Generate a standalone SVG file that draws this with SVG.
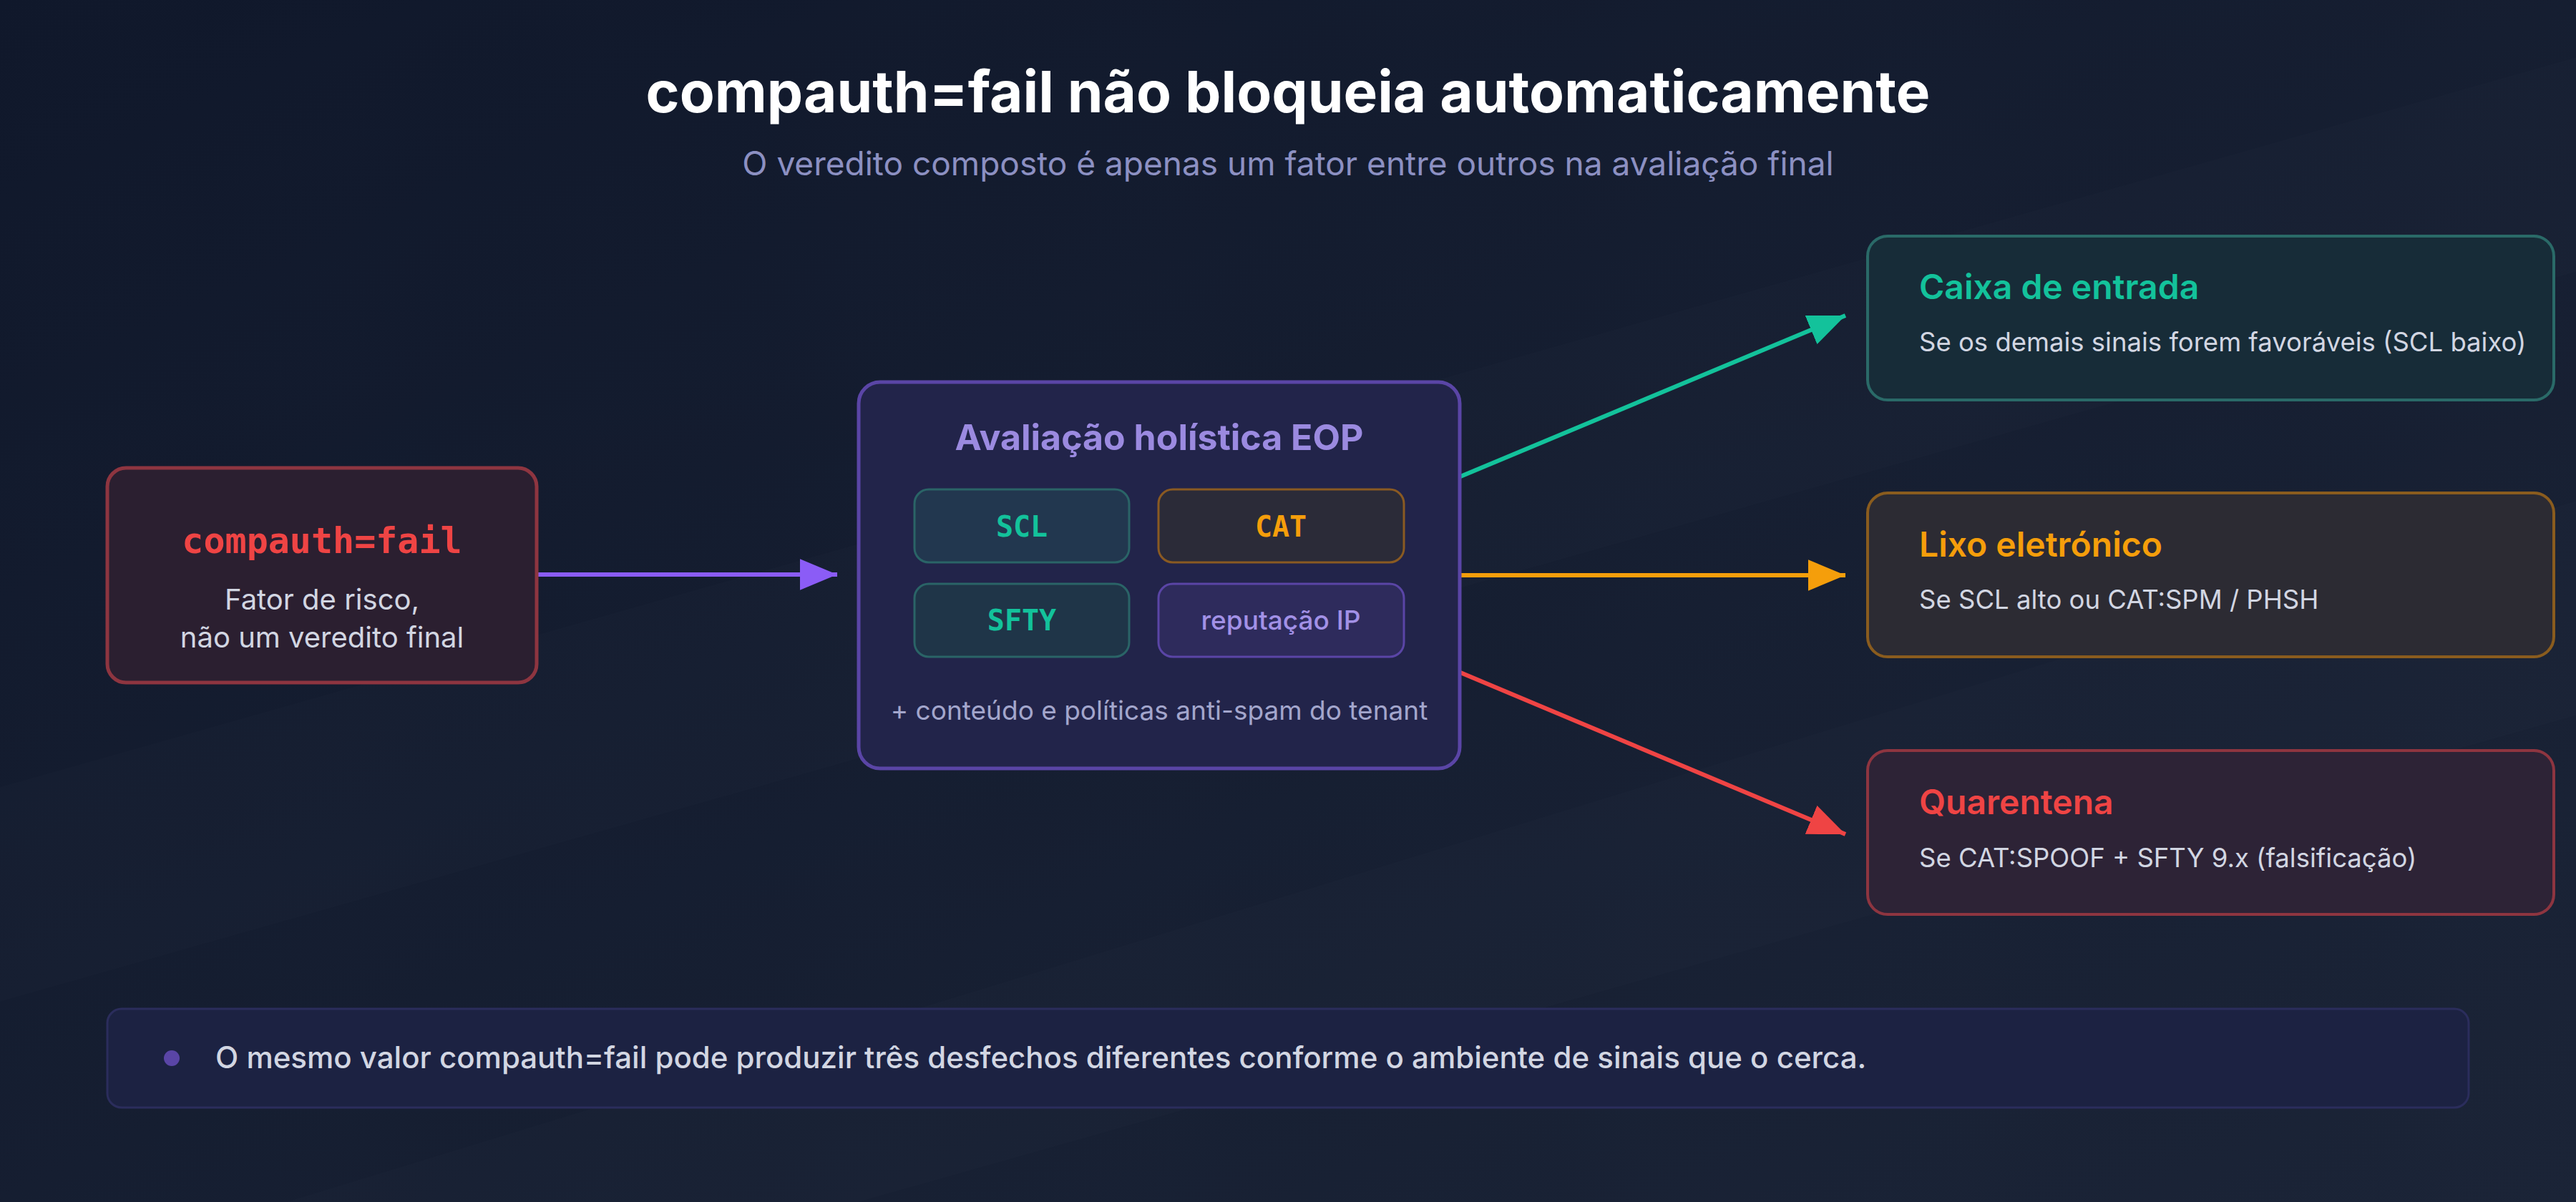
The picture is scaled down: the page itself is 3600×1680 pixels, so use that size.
<svg xmlns="http://www.w3.org/2000/svg" width="3600" height="1680" viewBox="0 0 3600 1680">
<defs>
<linearGradient id="bg" x1="0" y1="0" x2="1" y2="1">
<stop offset="0" stop-color="#10182b"/>
<stop offset="1" stop-color="#1b2437"/>
</linearGradient>
<marker id="mPurple" viewBox="0 0 12 10" refX="12" refY="5" markerWidth="52" markerHeight="44" markerUnits="userSpaceOnUse" orient="auto"><path d="M0,0 L12,5 L0,10 Z" fill="#8b5cf6"/></marker>
<marker id="mTeal" viewBox="0 0 12 10" refX="12" refY="5" markerWidth="52" markerHeight="44" markerUnits="userSpaceOnUse" orient="auto"><path d="M0,0 L12,5 L0,10 Z" fill="#13c29b"/></marker>
<marker id="mOrange" viewBox="0 0 12 10" refX="12" refY="5" markerWidth="52" markerHeight="44" markerUnits="userSpaceOnUse" orient="auto"><path d="M0,0 L12,5 L0,10 Z" fill="#f59e0b"/></marker>
<marker id="mRed" viewBox="0 0 12 10" refX="12" refY="5" markerWidth="52" markerHeight="44" markerUnits="userSpaceOnUse" orient="auto"><path d="M0,0 L12,5 L0,10 Z" fill="#ef4444"/></marker>
</defs>
<style>
.sans{font-family:Inter,"Noto Sans","Liberation Sans",sans-serif}
.mono{font-family:"DejaVu Sans Mono","Liberation Mono",monospace;font-weight:bold}
.title{font-size:80px;font-weight:700;fill:#ffffff}
.sub{font-size:46px;fill:#8c90c2}
.body{font-size:40px;fill:#d2d6e2}
.otitle{font-size:48px;font-weight:600}
.odesc{font-size:36.5px;fill:#d2d6e2}
.conn{fill:none;stroke-width:6}
</style>
<rect width="3600" height="1680" fill="url(#bg)"/>
<polygon points="0,1100 3600,80 3600,380 0,1400" fill="#ffffff" opacity="0.012"/>
<polygon points="400,1680 3600,700 3600,1000 1200,1680" fill="#ffffff" opacity="0.012"/>

<text class="sans title" x="1800" y="157" text-anchor="middle">compauth=fail não bloqueia automaticamente</text>
<text class="sans sub" x="1800" y="245" text-anchor="middle">O veredito composto é apenas um fator entre outros na avaliação final</text>

<g id="connectors">
<path class="conn" d="M751,803 L1170,803" stroke="#8b5cf6" marker-end="url(#mPurple)"/>
<path class="conn" d="M2041,666 L2579,441" stroke="#13c29b" marker-end="url(#mTeal)"/>
<path class="conn" d="M2041,804 L2579,804" stroke="#f59e0b" marker-end="url(#mOrange)"/>
<path class="conn" d="M2041,940 L2579,1166" stroke="#ef4444" marker-end="url(#mRed)"/>
</g>

<g id="node-compauth">
<rect x="150" y="654" width="600" height="300" rx="26" fill="#2b1f30" stroke="#8e3540" stroke-width="5"/>
<text class="mono" x="450" y="773" text-anchor="middle" font-size="50" fill="#ef4444">compauth=fail</text>
<text class="sans body" x="450" y="852" text-anchor="middle">Fator de risco,</text>
<text class="sans body" x="450" y="905" text-anchor="middle">não um veredito final</text>
</g>

<g id="node-eop">
<rect x="1200" y="534" width="840" height="540" rx="30" fill="#22244a" stroke="#5a45a6" stroke-width="5"/>
<text class="sans" x="1620" y="629" text-anchor="middle" font-size="50" font-weight="700" fill="#9b8ae0">Avaliação holística EOP</text>
<g id="sig-scl">
<rect x="1278" y="684" width="300" height="102" rx="20" fill="#22374f" stroke="#2a6467" stroke-width="3"/>
<text class="mono" x="1428" y="750" text-anchor="middle" font-size="40" fill="#13c29b">SCL</text>
</g>
<g id="sig-cat">
<rect x="1619" y="684" width="343" height="102" rx="20" fill="#2b2b38" stroke="#8a5a22" stroke-width="3"/>
<text class="mono" x="1790" y="750" text-anchor="middle" font-size="40" fill="#f59e0b">CAT</text>
</g>
<g id="sig-sfty">
<rect x="1278" y="816" width="300" height="102" rx="20" fill="#1f3548" stroke="#2a6467" stroke-width="3"/>
<text class="mono" x="1428" y="881" text-anchor="middle" font-size="40" fill="#13c29b">SFTY</text>
</g>
<g id="sig-ip">
<rect x="1619" y="816" width="343" height="102" rx="20" fill="#2e2b5c" stroke="#5a45a6" stroke-width="3"/>
<text class="sans" x="1790" y="880" text-anchor="middle" font-size="37" font-weight="500" fill="#a291e6">reputação IP</text>
</g>
<text class="sans" x="1620" y="1006" text-anchor="middle" font-size="37" fill="#a3a6cc">+ conteúdo e políticas anti-spam do tenant</text>
</g>

<g id="node-inbox">
<rect x="2610" y="330" width="959" height="229" rx="28" fill="#172c38" stroke="#2a6a68" stroke-width="4"/>
<text class="sans otitle" x="2682" y="418" fill="#13c29b">Caixa de entrada</text>
<text class="sans odesc" x="2682" y="491">Se os demais sinais forem favoráveis (SCL baixo)</text>
</g>

<g id="node-junk">
<rect x="2610" y="689" width="959" height="229" rx="28" fill="#2c2b33" stroke="#8a5c1e" stroke-width="4"/>
<text class="sans otitle" x="2682" y="778" fill="#f59e0b">Lixo eletrónico</text>
<text class="sans odesc" x="2682" y="851">Se SCL alto ou CAT:SPM / PHSH</text>
</g>

<g id="node-quarantine">
<rect x="2610" y="1049" width="959" height="229" rx="28" fill="#2d2336" stroke="#8e3540" stroke-width="4"/>
<text class="sans otitle" x="2682" y="1138" fill="#ef4444">Quarentena</text>
<text class="sans odesc" x="2682" y="1212">Se CAT:SPOOF + SFTY 9.x (falsificação)</text>
</g>

<g id="note">
<rect x="150" y="1410" width="3300" height="138" rx="20" fill="#1c2242" stroke="#2b2d5c" stroke-width="3"/>
<circle cx="240" cy="1479" r="11" fill="#5a45a6"/>
<text class="sans" x="301" y="1493" font-size="42" font-weight="500" fill="#d2d6e2">O mesmo valor compauth=fail pode produzir três desfechos diferentes conforme o ambiente de sinais que o cerca.</text>
</g>
</svg>
